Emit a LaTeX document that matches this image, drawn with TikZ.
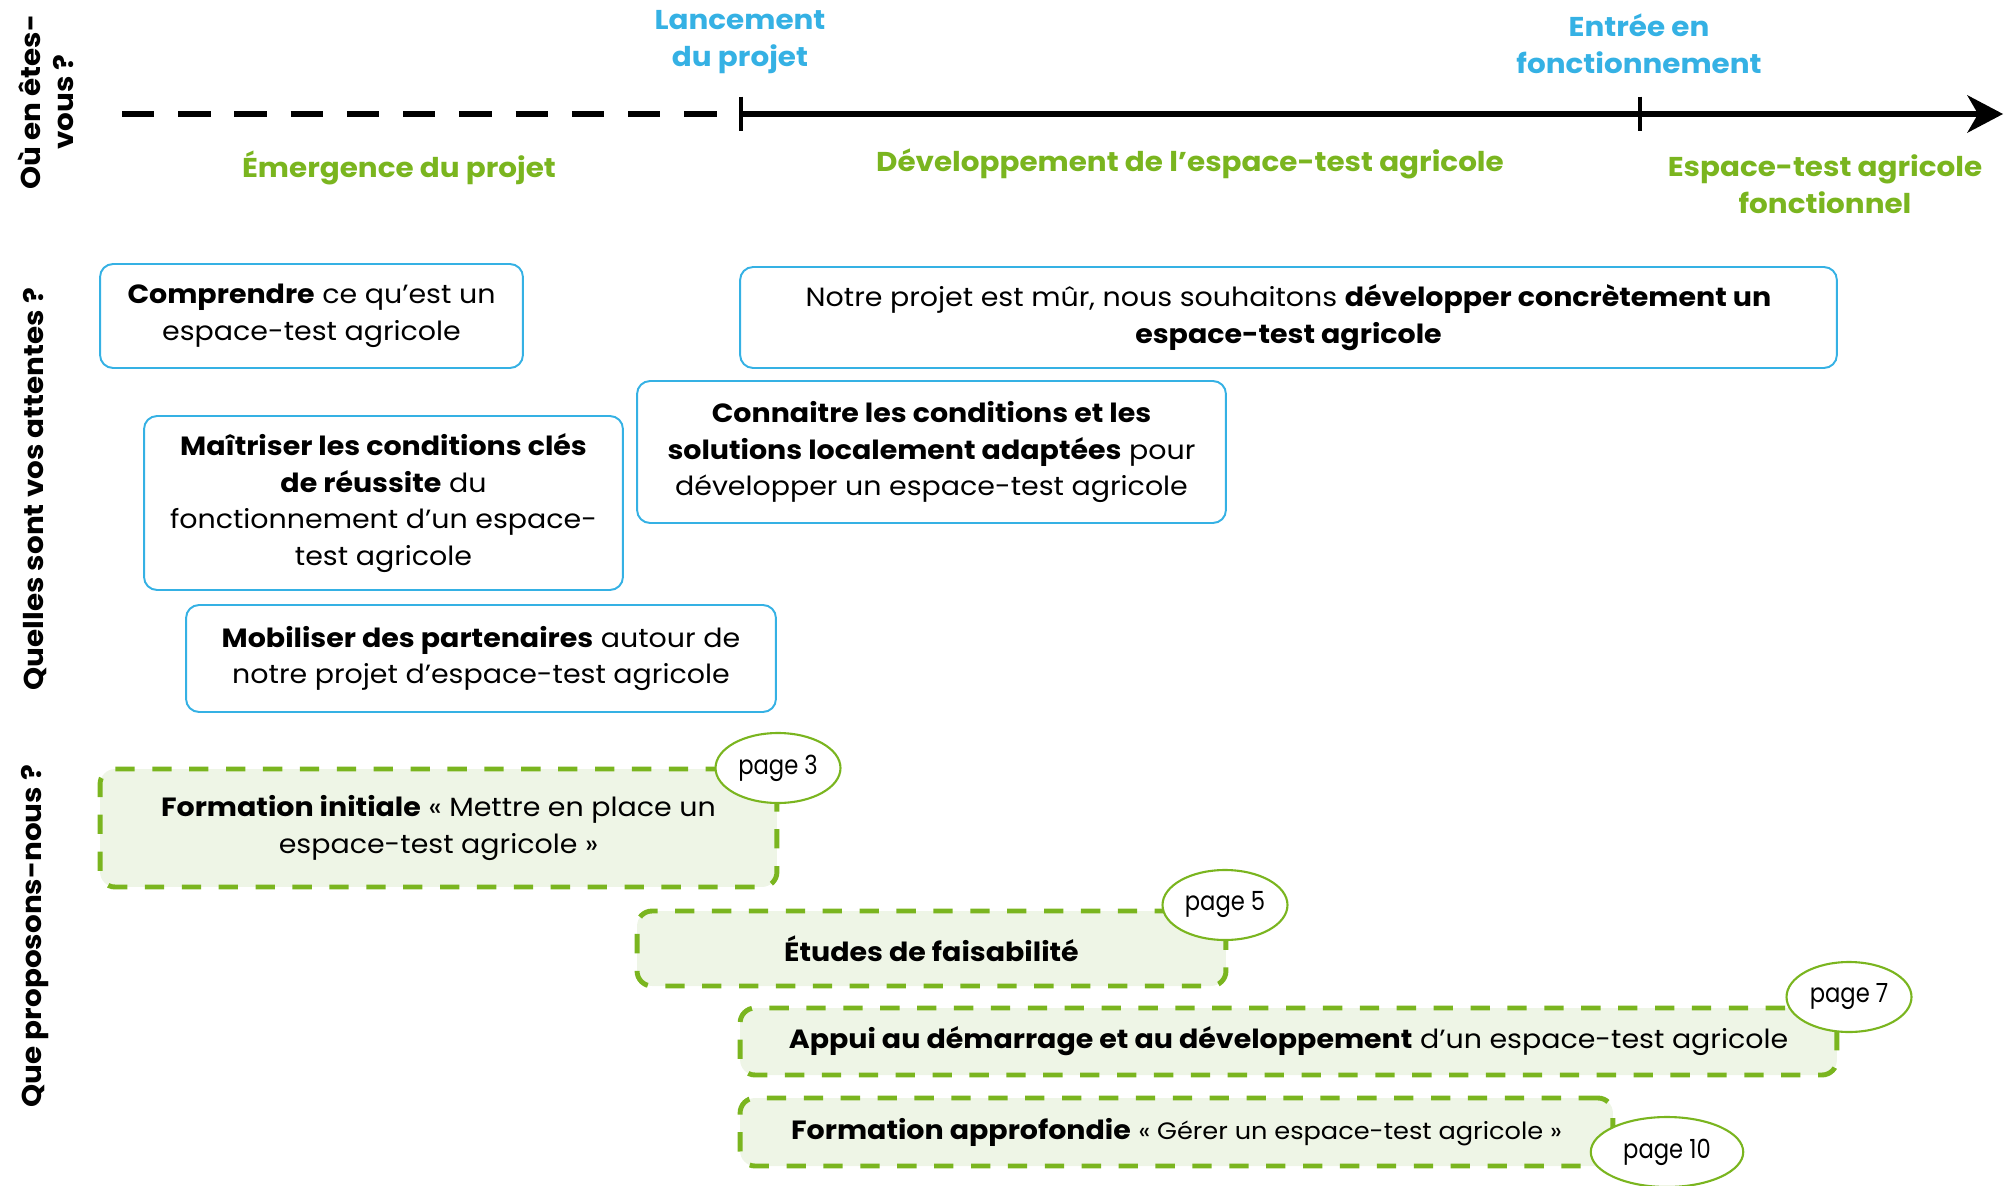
\documentclass[tikz,border=0pt]{standalone}
\usepackage{fontspec}
\setmainfont[FakeStretch=1.08]{Poppins}
\newfontfamily\tagfont[FakeStretch=0.86]{Poppins}
\usetikzlibrary{shapes.geometric}
\definecolor{blueET}{HTML}{35B1E4}
\definecolor{greenET}{HTML}{7AB51F}
\definecolor{lightET}{HTML}{EEF5E6}

\begin{document}
\begin{tikzpicture}[x=0.02cm,y=-0.02cm,
  every node/.style={inner sep=0pt, font=\fontsize{15}{20.8}\selectfont},
  stage/.style={text=blueET, align=center, font=\fontsize{15.5}{21}\selectfont\bfseries},
  phase/.style={text=greenET, align=center, font=\fontsize{15.5}{21}\selectfont\bfseries},
  question/.style={rotate=90, align=center, font=\fontsize{15.5}{19}\selectfont\bfseries},
  expect/.style={draw=blueET, line width=1.1pt, rounded corners=0.26cm, align=center},
  offer/.style={draw=greenET, fill=lightET, line width=2.8pt, dash pattern=on 11pt off 10pt, rounded corners=0.3cm, align=center},
  pagetag/.style={ellipse, draw=greenET, fill=white, line width=1.2pt, minimum width=2.5cm, minimum height=1.4cm, font=\tagfont\fontsize{15}{18}\selectfont}]
\useasboundingbox (0,0) rectangle (2011,1186);
\coordinate (start) at (122,114);
\coordinate (dashEnd) at (718,114);
\coordinate (launch) at (741,114);
\coordinate (running) at (1640,114);
\coordinate (tip) at (2003,114);
\draw [black, line width=3.6pt, dash pattern=on 18.4pt off 13.6pt] (start) -- (dashEnd);
\draw [black, line width=3.6pt] (launch) -- ([xshift=-0.5cm]tip);
\fill [black] (tip) -- (1967,95) -- (1978,114) -- (1967,133) -- cycle;
\draw [black, line width=2.3pt] ([yshift=0.35cm]launch) -- ([yshift=-0.35cm]launch);
\draw [black, line width=2.3pt] ([yshift=0.35cm]running) -- ([yshift=-0.35cm]running);
\node [stage] (lancement) at (740,42) {Lancement\\du projet};
\node [stage] (entree) at (1639,44) {Entrée en\\fonctionnement};
\node [phase] (emergence) at (399,168) {Émergence du projet};
\node [phase] (developpement) at (1190,164) {Développement de l’espace-test agricole};
\node [phase] (fonctionnel) at (1825,184) {Espace-test agricole\\fonctionnel};
\node [question] (qOu) at (46,102) {Où en êtes-\\vous ?};
\node [question] (qAttentes) at (35,489) {Quelles sont vos attentes ?};
\node [question] (qPropose) at (35,936) {Que proposons-nous ?};
\node [expect, minimum width=8.46cm, minimum height=2.08cm] (comprendre) at (311.5,316)
  {\textbf{Comprendre} ce qu’est un\\espace-test agricole};
\node [expect, minimum width=21.94cm, minimum height=2.02cm] (projetMur) at (1288.5,317.5)
  {Notre projet est mûr, nous souhaitons \textbf{développer concrètement un}\\\textbf{espace-test agricole}};
\node [expect, minimum width=9.58cm, minimum height=3.48cm] (maitriser) at (383.5,503)
  {\textbf{Maîtriser les conditions clés}\\\textbf{de réussite} du\\fonctionnement d’un espace-\\test agricole};
\node [expect, minimum width=11.78cm, minimum height=2.84cm] (connaitre) at (931.5,452)
  {\textbf{Connaitre les conditions et les}\\\textbf{solutions localement adaptées} pour\\développer un espace-test agricole};
\node [expect, minimum width=11.8cm, minimum height=2.14cm] (mobiliser) at (481,658.5)
  {\textbf{Mobiliser des partenaires} autour de\\notre projet d’espace-test agricole};
\node [offer, minimum width=13.54cm, minimum height=2.36cm] (formInit) at (438.5,828)
  {\textbf{Formation initiale} « Mettre en place un\\espace-test agricole »};
\node [offer, minimum width=11.78cm, minimum height=1.5cm] (etudes) at (931.5,948.5)
  {\textbf{Études de faisabilité}};
\node [offer, minimum width=21.94cm, minimum height=1.34cm] (appui) at (1288.5,1041.5)
  {\textbf{Appui au démarrage et au développement} d’un espace-test agricole};
\node [offer, minimum width=17.46cm, minimum height=1.36cm] (formAppro) at (1176.5,1132)
  {\textbf{Formation approfondie} {\fontsize{13.5}{15}\selectfont« Gérer un espace-test agricole »}};
\node [pagetag] (page3) at (778,768) {page 3};
\node [pagetag] (page5) at (1225,905) {page 5};
\node [pagetag] (page7) at (1849,997) {page 7};
\node [pagetag, minimum width=3.05cm] (page10) at (1667,1152) {page 10};
\end{tikzpicture}
\end{document}
